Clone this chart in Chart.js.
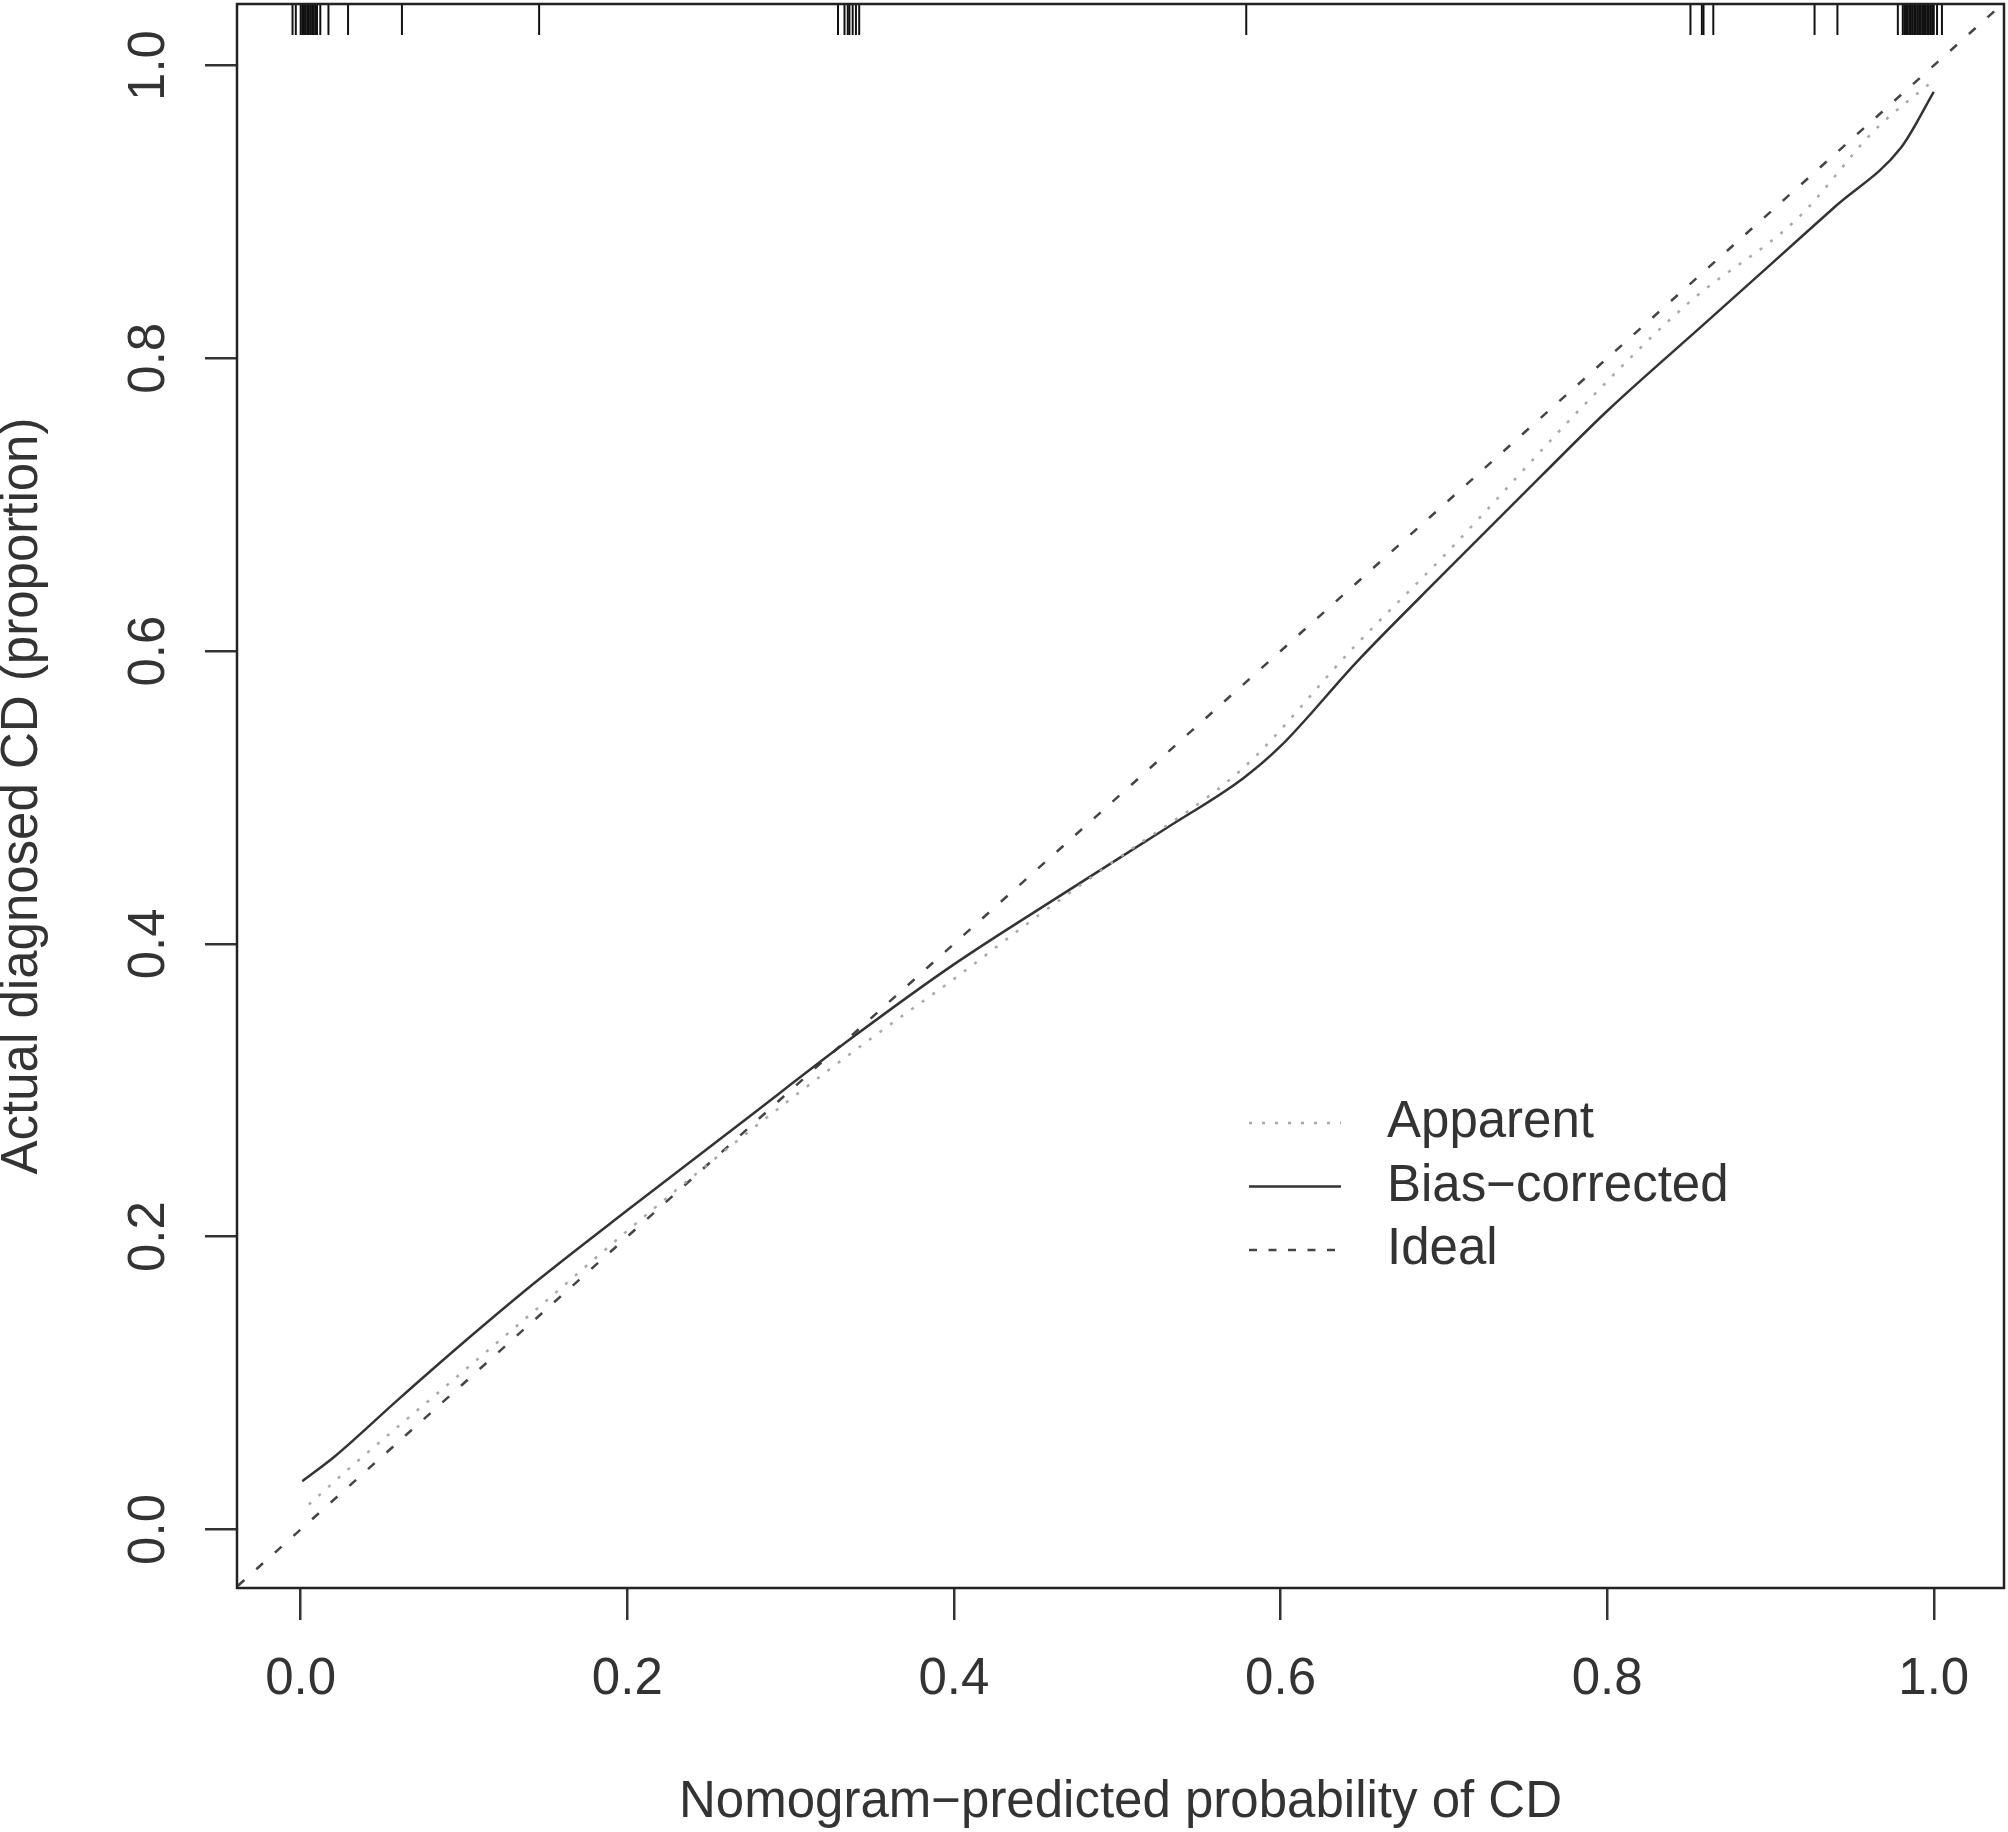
<!DOCTYPE html>
<html>
<head>
<meta charset="utf-8">
<title>Calibration curve</title>
<script src="https://cdn.jsdelivr.net/npm/chart.js@4.4.1/dist/chart.umd.min.js"></script>
<style>
  html, body { margin: 0; padding: 0; background: #fff; }
  canvas { display: block; }
</style>
</head>
<body>
<canvas id="calib" width="2008" height="1832"></canvas>
<script>
/* ── data ─────────────────────────────────────────────────── */
const xTicks = [0, 0.2, 0.4, 0.6, 0.8, 1.0];
const yTicks = [0, 0.2, 0.4, 0.6, 0.8, 1.0];
const xMin = -0.039, xMax = 1.043;
const yMin = -0.040, yMax = 1.042;

// Bias-corrected (solid)
const biasX = [0.001, 0.021, 0.06, 0.10, 0.145, 0.2, 0.27, 0.339, 0.4, 0.468, 0.53, 0.577, 0.6, 0.647, 0.7, 0.76, 0.8, 0.86, 0.9, 0.94, 0.98, 1.0];
const biasY = [0.033, 0.050, 0.089, 0.128, 0.170, 0.218, 0.278, 0.337, 0.386, 0.435, 0.479, 0.513, 0.535, 0.593, 0.653, 0.720, 0.764, 0.824, 0.864, 0.904, 0.944, 0.982];

// Apparent (dotted)
const apparentX = [0.005, 0.029, 0.089, 0.147, 0.2, 0.25, 0.3, 0.35, 0.4, 0.45, 0.5, 0.577, 0.646, 0.7, 0.791, 0.85, 0.917, 0.964, 1.0];
const apparentY = [0.017, 0.041, 0.098, 0.153, 0.204, 0.25, 0.294, 0.336, 0.376, 0.418, 0.458, 0.52, 0.604, 0.665, 0.774, 0.838, 0.896, 0.956, 0.99];

// Ideal (dashed diagonal, clipped to the plot region)
const idealX = [-0.05, 1.05];
const idealY = [-0.05, 1.05];

// Rug of predicted probabilities along the top edge
const rugX = [
  -0.005, -0.003, 0.0, 0.001, 0.002, 0.003, 0.004, 0.005, 0.006, 0.007, 0.008, 0.009, 0.010, 0.012, 0.017, 0.029, 0.062, 0.146,
  0.329, 0.333, 0.335, 0.336, 0.338, 0.340, 0.342, 0.579,
  0.851, 0.858, 0.859, 0.865, 0.927, 0.941, 0.978,
  0.981, 0.982, 0.983, 0.984, 0.985, 0.986, 0.987, 0.988, 0.989, 0.990,
  0.991, 0.992, 0.993, 0.994, 0.995, 0.996, 0.997, 0.998, 0.999, 1.000, 1.002, 1.005
];

const FONT = 'Liberation Sans, Arial, Helvetica, sans-serif';
const INK  = '#333';

const pts = (xs, ys) => xs.map((x, i) => ({ x, y: ys[i] }));

/* ── box around the plot region ───────────────────────────── */
const frame = {
  id: 'frame',
  afterDatasetsDraw(chart) {
    const { ctx, chartArea: a } = chart;
    ctx.save();
    ctx.strokeStyle = '#222';
    ctx.lineWidth = 2.5;
    ctx.strokeRect(a.left, a.top, a.right - a.left, a.bottom - a.top);
    ctx.restore();
  }
};

/* ── R-style legend with line samples ─────────────────────── */
const calLegend = {
  id: 'calLegend',
  afterDraw(chart) {
    const ctx = chart.ctx;
    const rows = chart.data.datasets.filter(d => d.inLegend);
    rows.forEach((ds, i) => {
      const y = 1123 + i * 63.5;
      ctx.save();
      ctx.strokeStyle = ds.borderColor;
      ctx.lineWidth = ds.borderWidth;
      ctx.setLineDash(ds.legendDash || ds.borderDash || []);
      ctx.beginPath();
      ctx.moveTo(1249, y);
      ctx.lineTo(1341, y);
      ctx.stroke();
      ctx.restore();

      ctx.save();
      ctx.fillStyle = INK;
      ctx.font = '51px ' + FONT;
      ctx.textBaseline = 'middle';
      ctx.textAlign = 'left';
      ctx.fillText(ds.label, 1387, y);
      ctx.restore();
    });
  }
};

new Chart(document.getElementById('calib'), {
  type: 'scatter',
  data: {
    datasets: [
      {
        label: 'Apparent',
        data: pts(apparentX, apparentY),
        showLine: true, inLegend: true,
        borderColor: '#a8a8a8', borderWidth: 2.5, borderDash: [3, 10],
        pointRadius: 0, cubicInterpolationMode: 'monotone'
      },
      {
        label: 'Bias\u2212corrected',
        data: pts(biasX, biasY),
        showLine: true, inLegend: true,
        borderColor: '#333', borderWidth: 2.5,
        pointRadius: 0, cubicInterpolationMode: 'monotone'
      },
      {
        label: 'Ideal',
        data: pts(idealX, idealY),
        showLine: true, inLegend: true, clip: 0,
        borderColor: '#444', borderWidth: 2.5, borderDash: [9, 16], legendDash: [8, 11.5],
        pointRadius: 0
      },
      {
        label: 'rug',
        data: rugX.map(x => ({ x, y: yMax })),
        showLine: false, clip: 0,
        pointStyle: 'line', pointRotation: 90, pointRadius: 31,
        pointBorderColor: '#111', pointBorderWidth: 2
      }
    ]
  },
  options: {
    responsive: false,
    animation: false,
    devicePixelRatio: 1,
    events: [],
    layout: { autoPadding: false, padding: { top: 4, right: 4, left: 0, bottom: 0 } },
    plugins: { legend: { display: false }, tooltip: { enabled: false } },
    scales: {
      x: {
        type: 'linear', min: xMin, max: xMax,
        afterBuildTicks: s => { s.ticks = xTicks.map(v => ({ value: v })); },
        afterFit: s => { s.height = 244; s.paddingLeft = 0; s.paddingRight = 0; },
        ticks: {
          callback: v => v.toFixed(1),
          font: { family: FONT, size: 51 }, color: INK,
          padding: 29, autoSkip: false, minRotation: 0, maxRotation: 0
        },
        grid: { drawOnChartArea: false, drawTicks: true, tickLength: 32, color: '#333', lineWidth: 2.5 },
        border: { display: false },
        title: {
          display: true, text: 'Nomogram\u2212predicted probability of CD',
          font: { family: FONT, size: 51, lineHeight: 1.14 }, color: INK, padding: 0
        }
      },
      y: {
        type: 'linear', min: yMin, max: yMax,
        afterBuildTicks: s => { s.ticks = yTicks.map(v => ({ value: v })); },
        afterFit: s => { s.width = 237; s.paddingTop = 0; s.paddingBottom = 0; },
        ticks: {
          callback: v => v.toFixed(1),
          font: { family: FONT, size: 51 }, color: INK,
          padding: 20, autoSkip: false, minRotation: 90, maxRotation: 90, crossAlign: 'center'
        },
        grid: { drawOnChartArea: false, drawTicks: true, tickLength: 32, color: '#333', lineWidth: 2.5 },
        border: { display: false },
        title: {
          display: true, text: 'Actual diagnosed CD (proportion)',
          font: { family: FONT, size: 51, lineHeight: 0.9 }, color: INK, padding: 0
        }
      }
    }
  },
  plugins: [frame, calLegend]
});
</script>
</body>
</html>
